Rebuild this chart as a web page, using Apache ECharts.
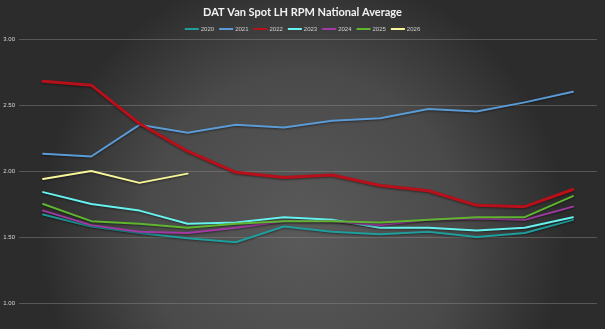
<!DOCTYPE html>
<html><head><meta charset="utf-8">
<script src="https://cdn.jsdelivr.net/npm/echarts@6/dist/echarts.min.js"></script>
<style>html,body{margin:0;padding:0;background:#3a3a3a}#c{width:605px;height:329px}</style>
</head><body><div id="c"></div>
<script>
const months = ['Jan','Feb','Mar','Apr','May','Jun','Jul','Aug','Sep','Oct','Nov','Dec'];
const yTicks = [1.0, 1.5, 2.0, 2.5, 3.0];
const y2020 = [1.67,1.58,1.53,1.49,1.46,1.58,1.54,1.52,1.54,1.50,1.53,1.63];
const y2021 = [2.13,2.11,2.35,2.29,2.35,2.33,2.38,2.40,2.47,2.45,2.52,2.60];
const y2022 = [2.68,2.65,2.36,2.15,1.99,1.95,1.97,1.89,1.85,1.74,1.73,1.86];
const y2023 = [1.84,1.75,1.70,1.60,1.61,1.65,1.63,1.57,1.57,1.55,1.57,1.65];
const y2024 = [1.70,1.59,1.54,1.53,1.57,1.62,1.62,1.59,1.63,1.64,1.63,1.73];
const y2025 = [1.75,1.62,1.60,1.57,1.60,1.62,1.62,1.61,1.63,1.65,1.65,1.81];
const y2026 = [1.94,2.00,1.91,1.98];

const seriesDefs = [
  ['2020', y2020, '#1e9e9c', 2],
  ['2021', y2021, '#5b9bd5', 2],
  ['2022', y2022, '#b8101a', 3],
  ['2023', y2023, '#66f2ee', 2],
  ['2024', y2024, '#a23aa6', 2],
  ['2025', y2025, '#5fb530', 2],
  ['2026', y2026, '#f8f59a', 2]
];

const chart = echarts.init(document.getElementById('c'), null, {renderer:'canvas'});
chart.setOption({
  animation: false,
  backgroundColor: {
    type: 'radial', x: 0.5, y: 0.7, r: 0.8,
    colorStops: [
      {offset: 0, color: '#5a5a5a'},
      {offset: 0.6, color: '#4a4a4a'},
      {offset: 1, color: '#2c2c2c'}
    ]
  },
  title: {
    text: 'DAT Van Spot LH RPM National Average',
    left: 'center', top: 2,
    textStyle: {color: '#f2f2f2', fontSize: 11, fontWeight: 'bold', fontFamily: 'Lato'}
  },
  legend: {
    top: 21, left: 'center',
    itemWidth: 14, itemHeight: 2, itemGap: 5, icon: 'rect',
    textStyle: {color: '#d0d0d0', fontSize: 6, fontFamily: 'Liberation Sans', padding: [0,0,0,-3]},
    data: seriesDefs.map(d => d[0])
  },
  grid: {left: 19, right: 8, top: 39, bottom: 26, containLabel: false},
  xAxis: {
    type: 'category', data: months, boundaryGap: true,
    axisLine: {show: false}, axisTick: {show: false}, axisLabel: {show: false},
    splitLine: {show: false}
  },
  yAxis: {
    type: 'value', min: yTicks[0], max: yTicks[yTicks.length-1], interval: 0.5,
    axisLine: {show: false}, axisTick: {show: false},
    axisLabel: {color: '#d8d8d8', fontSize: 6, fontFamily: 'Liberation Sans', margin: 4,
      formatter: v => v.toFixed(2)},
    splitLine: {lineStyle: {color: 'rgba(140,140,140,0.45)', width: 1}}
  },
  series: seriesDefs.map(d => ({
    name: d[0], type: 'line', data: d[1], symbol: 'none', smooth: false,
    color: d[2],
    lineStyle: {color: d[2], width: d[3], cap: 'round', join: 'round',
      shadowColor: 'rgba(0,0,0,0.45)', shadowBlur: 2, shadowOffsetY: 1}
  }))
});
</script></body></html>
